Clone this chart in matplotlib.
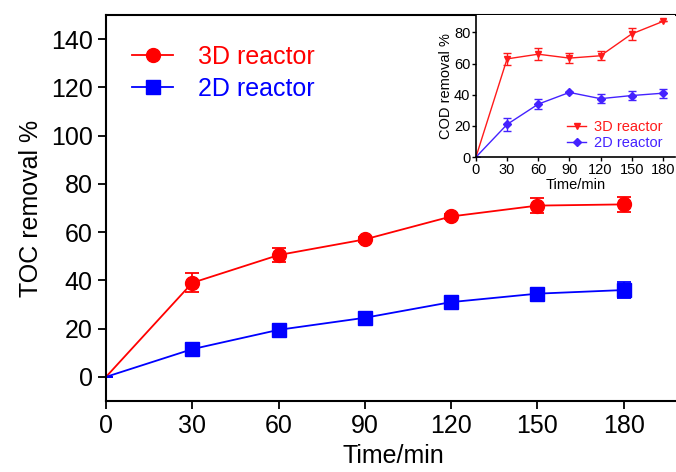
import matplotlib.pyplot as plt
from matplotlib.lines import Line2D

plt.rcParams['font.family'] = ['Liberation Sans', 'DejaVu Sans']

# TOC removal data
time = [0, 30, 60, 90, 120, 150, 180]
toc_3d = [0, 39, 50.5, 57, 66.5, 71, 71.5]
toc_3d_err = [0, 4, 3, 1, 1, 3, 3]
toc_2d = [0, 11.5, 19.5, 24.5, 31, 34.5, 36]
toc_2d_err = [0, 1, 1, 1, 1, 1.5, 3.5]

# COD removal data (inset)
cod_3d = [0, 63, 66, 63.5, 65, 79, 87]
cod_3d_err = [0, 4, 4, 3, 3, 4, 0]
cod_2d = [0, 21, 34, 41.5, 37.5, 39.5, 41]
cod_2d_err = [0, 4, 3, 0, 3, 3, 3]

xticks = [0, 30, 60, 90, 120, 150, 180]

red = '#ff0000'
blue = '#0000ff'
red_i = '#ff1a1a'
blue_i = '#4422ff'

fig = plt.figure(figsize=(6.76, 4.72), dpi=100)
ax = fig.add_axes([0.1568, 0.1504, 0.851, 0.8178])

# no marker at the origin
ax.errorbar(time, toc_3d, yerr=toc_3d_err, color=red, marker='o', ms=10,
            markevery=slice(1, None), lw=1.3, capsize=5, elinewidth=1.3, capthick=1.3)
ax.errorbar(time, toc_2d, yerr=toc_2d_err, color=blue, marker='s', ms=9.5,
            markevery=slice(1, None), lw=1.3, capsize=5, elinewidth=1.3, capthick=1.3)

ax.set_xlim(0, 200)
ax.set_ylim(-10, 150)
ax.set_xticks(xticks)
ax.set_yticks(range(0, 141, 20))
ax.tick_params(direction='out', length=6, width=1.3, labelsize=18)
for s in ax.spines.values():
    s.set_linewidth(1.5)
ax.set_xlabel('Time/min', fontsize=18, labelpad=4)
ax.set_ylabel('TOC removal %', fontsize=18, labelpad=6)

handles = [Line2D([], [], color=red, marker='o', ms=10, lw=1.3),
           Line2D([], [], color=blue, marker='s', ms=9.5, lw=1.3)]
leg = ax.legend(handles, ['3D reactor', '2D reactor'], loc='upper left',
                bbox_to_anchor=(0.045, 0.922), frameon=False, fontsize=18,
                borderpad=0, borderaxespad=0, handlelength=1.65,
                handletextpad=1.0, labelspacing=0.3)
for t, c in zip(leg.get_texts(), [red, blue]):
    t.set_color(c)

# inset with COD removal
ins = fig.add_axes([0.704, 0.667, 0.295, 0.3008])
ins.errorbar(time, cod_3d, yerr=cod_3d_err, color=red_i, marker='v', ms=5,
             markevery=slice(1, None), lw=1, capsize=3, elinewidth=1, capthick=1)
ins.errorbar(time, cod_2d, yerr=cod_2d_err, color=blue_i, marker='D', ms=4,
             markevery=slice(1, None), lw=1, capsize=3, elinewidth=1, capthick=1)
ins.set_xlim(0, 192)
ins.set_ylim(0, 91)
ins.set_xticks(xticks)
ins.set_yticks(range(0, 81, 20))
ins.spines['top'].set_visible(False)
ins.spines['right'].set_visible(False)
for s in ['left', 'bottom']:
    ins.spines[s].set_linewidth(1.2)
ins.tick_params(direction='out', length=3, width=1, labelsize=10.5, pad=1)
ins.set_xlabel('Time/min', fontsize=10.5, labelpad=1)
ins.set_ylabel('COD removal %', fontsize=10.5, labelpad=1)
ihandles = [Line2D([], [], color=red_i, marker='v', ms=5, lw=1),
            Line2D([], [], color=blue_i, marker='D', ms=4, lw=1)]
ileg = ins.legend(ihandles, ['3D reactor', '2D reactor'], loc='lower right',
                  bbox_to_anchor=(1.0, -0.04), frameon=False, fontsize=10.5,
                  handlelength=1.3, handletextpad=0.5, labelspacing=0.1)
for t, c in zip(ileg.get_texts(), [red_i, blue_i]):
    t.set_color(c)

fig.savefig('out.png', dpi=100)
